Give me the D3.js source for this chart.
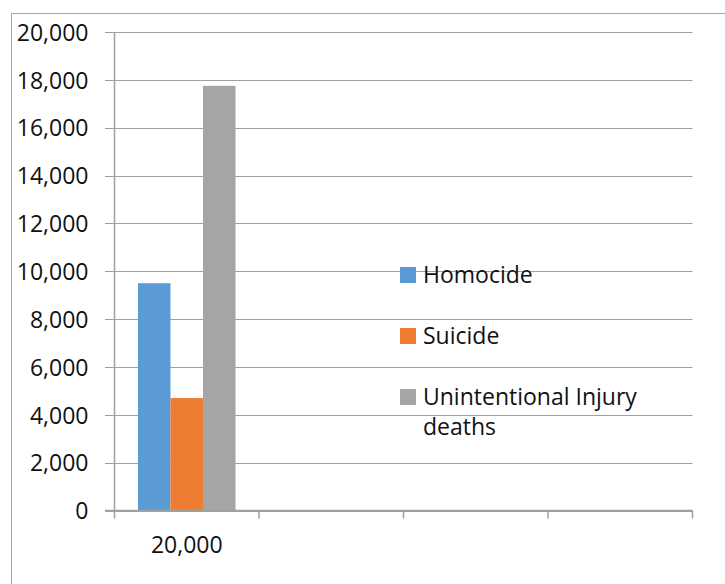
<!DOCTYPE html>
<html>
<head>
<meta charset="utf-8">
<script src="https://cdn.jsdelivr.net/npm/d3@7"></script>
<style>
  html, body { margin: 0; padding: 0; background: #fff; }
  svg { display: block; }
  text { font-family: "Open Sans", "Liberation Sans", sans-serif; fill: #111; }
</style>
</head>
<body>
<script>
// ---- data ----
const categoryLabels = ["20,000", "", "", ""];
const seriesNames = ["Homocide", "Suicide", "Unintentional Injury deaths"];
const homocide = [9500, null, null, null];
const suicide = [4700, null, null, null];
const unintentional = [17750, null, null, null];
const yTicks = [0, 2000, 4000, 6000, 8000, 10000, 12000, 14000, 16000, 18000, 20000];
const colors = ["#5b9bd5", "#ed7d31", "#a5a5a5"];

(function () {
const W = 725, H = 584;
const svg = d3.select("body").append("svg").attr("width", W).attr("height", H);

// outer chart border (extends beyond window on right/bottom)
svg.append("rect")
  .attr("x", 11.5).attr("y", 13.5)
  .attr("width", 800).attr("height", 700)
  .attr("fill", "none").attr("stroke", "#a6a6a6").attr("stroke-width", 1);

const pLeft = 114.5, pRight = 692.5, pTop = 32, pBottom = 510.5;

const y = d3.scaleLinear().domain([0, 20000]).range([pBottom, pTop]);
const x = d3.scaleBand().domain(d3.range(categoryLabels.length))
  .range([pLeft, pRight]).paddingInner(0.325).paddingOuter(0.1625);
const xs = d3.scaleBand().domain(d3.range(seriesNames.length))
  .range([0, x.bandwidth()]);

const gridColor = "#a0a0a0";

// gridlines
svg.append("g").selectAll("line").data(yTicks).join("line")
  .attr("x1", pLeft - 9.5).attr("x2", pRight)
  .attr("y1", d => Math.round(y(d)) + 0.5).attr("y2", d => Math.round(y(d)) + 0.5)
  .attr("stroke", gridColor).attr("stroke-width", 1);

// y axis labels
const yAxis = d3.axisLeft(y).tickValues(yTicks).tickSize(0).tickPadding(26)
  .tickFormat(d3.format(","));
const gy = svg.append("g").attr("transform", `translate(${pLeft},0)`).call(yAxis);
gy.select(".domain").remove();
gy.selectAll("text").style("font-size", "23px").style("font-family", "'Open Sans', sans-serif")
  .attr("fill", "#111").attr("dy", "0.36em");

// y axis line
svg.append("line").attr("x1", pLeft).attr("x2", pLeft).attr("y1", pTop).attr("y2", pBottom)
  .attr("stroke", gridColor).attr("stroke-width", 1.5);

// bars
const series = [homocide, suicide, unintentional];
series.forEach((vals, si) => {
  svg.append("g").selectAll("rect")
    .data(vals.map((v, i) => ({ v, i })).filter(d => d.v != null))
    .join("rect")
    .attr("x", d => x(d.i) + xs(si))
    .attr("width", xs.bandwidth())
    .attr("y", d => y(d.v))
    .attr("height", d => y(0) - y(d.v))
    .attr("fill", colors[si]);
});

// x axis
const xAxis = d3.axisBottom(x).tickSize(0).tickPadding(26).tickFormat(i => categoryLabels[i]);
const gx = svg.append("g").attr("transform", `translate(0,${pBottom})`).call(xAxis);
gx.select(".domain").remove();
gx.selectAll("text").style("font-size", "23px").style("font-family", "'Open Sans', sans-serif")
  .attr("fill", "#111");
svg.append("line").attr("x1", pLeft - 9.5).attr("x2", pRight).attr("y1", pBottom).attr("y2", pBottom)
  .attr("stroke", gridColor).attr("stroke-width", 1.5);
const stepW = (pRight - pLeft) / categoryLabels.length;
svg.append("g").selectAll("line").data(d3.range(categoryLabels.length + 1)).join("line")
  .attr("x1", i => pLeft + i * stepW)
  .attr("x2", i => pLeft + i * stepW)
  .attr("y1", pBottom).attr("y2", pBottom + 8)
  .attr("stroke", gridColor).attr("stroke-width", 1.5);

// legend
const legendY = [267, 328, 389];
const legend = svg.append("g");
seriesNames.forEach((name, i) => {
  legend.append("rect").attr("x", 400).attr("y", legendY[i]).attr("width", 16).attr("height", 16)
    .attr("fill", colors[i]);
  const t = legend.append("text").attr("x", 423).attr("y", legendY[i] + 16)
    .style("font-size", "23px");
  if (name === "Unintentional Injury deaths") {
    t.append("tspan").attr("x", 423).text("Unintentional Injury");
    t.append("tspan").attr("x", 423).attr("dy", 30).text("deaths");
  } else {
    t.text(name);
  }
});
})();
</script>
</body>
</html>
